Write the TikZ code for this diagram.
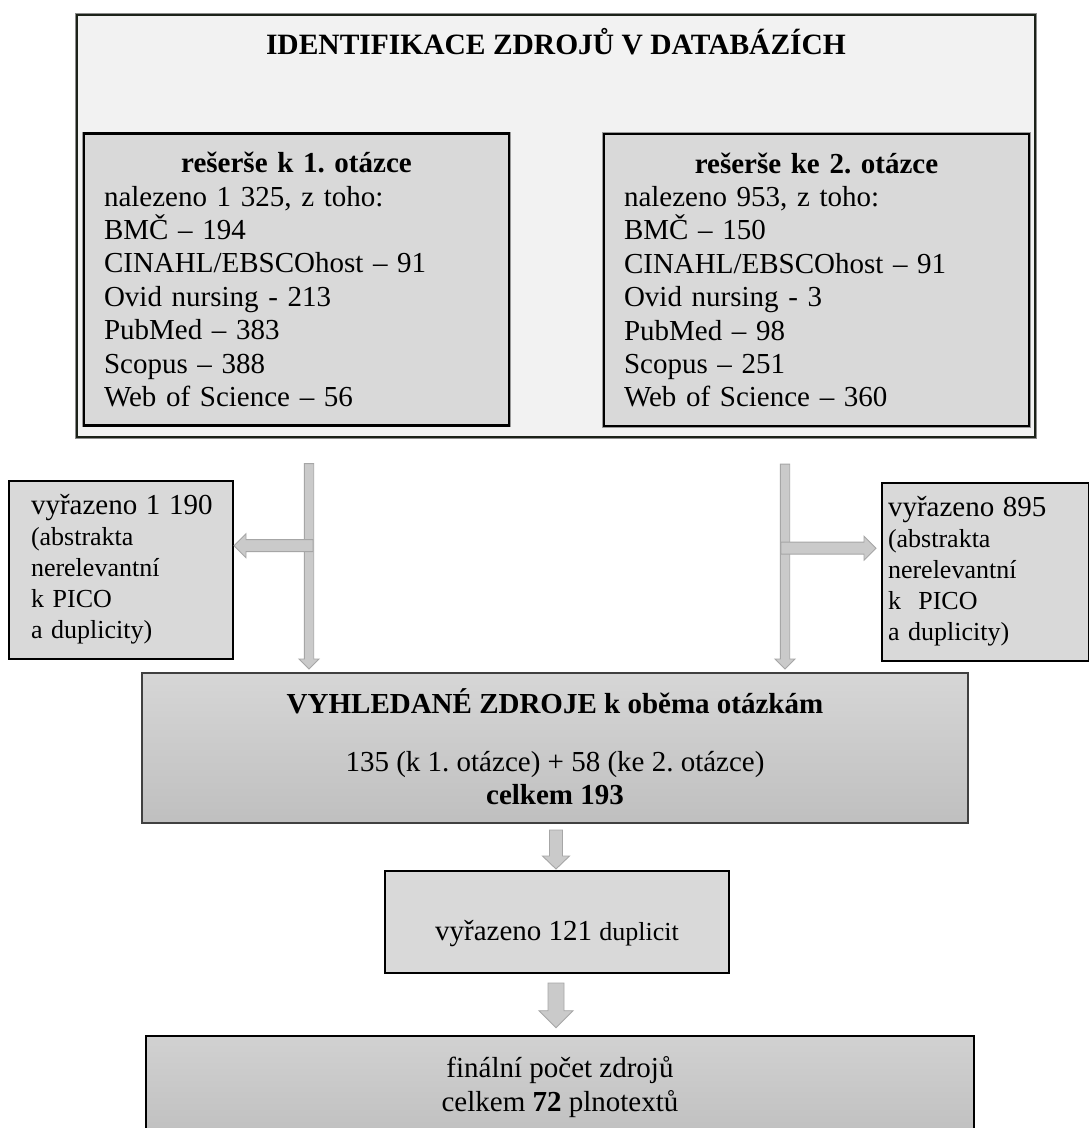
\documentclass[tikz,border=0pt]{standalone}
\usepackage{fontspec}
\setmainfont{Liberation Serif}
\usetikzlibrary{calc}
\frenchspacing
\definecolor{outerfill}{HTML}{F2F2F2}
\definecolor{boxfill}{HTML}{D9D9D9}
\definecolor{outerline}{HTML}{1C2219}
\definecolor{arrowfill}{HTML}{CACACA}
\definecolor{arrowline}{HTML}{A6A6A6}
\newcommand\titlesz{\fontsize{29.5}{33.4}\selectfont}
\newcommand\mainsz{\fontsize{29}{33.4}\selectfont}
\newcommand\firstsz{\fontsize{29}{31}\selectfont}
\newcommand\smallsz{\fontsize{26}{31}\selectfont}
\tikzset{
  outerbox/.style={draw=outerline, line width=2.6pt, fill=outerfill,
    preaction={draw=black!45, line width=4.2pt},
    minimum width=958pt, minimum height=422pt, inner sep=0pt},
  searchbox/.style={draw=black, line width=2.3pt, fill=boxfill,
    preaction={draw=black!40, line width=3.6pt},
    minimum width=425pt, minimum height=292pt, inner sep=0pt,
    text width=385pt, align=left, font=\mainsz},
  discbox/.style={draw=black, line width=2pt, fill=boxfill,
    minimum height=178pt, inner sep=0pt, align=left, font=\smallsz},
  midbox/.style={draw=black!75, line width=2pt, top color=black!16, bottom color=black!25,
    minimum width=826pt, minimum height=150pt, inner sep=0pt, font=\mainsz},
  dupbox/.style={draw=black, line width=2pt, fill=boxfill,
    minimum width=344pt, minimum height=102pt, inner sep=0pt, font=\mainsz},
  finalbox/.style={draw=black, line width=2.6pt, top color=black!18, bottom color=black!25,
    minimum width=828pt, minimum height=104pt, inner sep=0pt, font=\mainsz},
  blockarrow/.style={fill=arrowfill, draw=arrowline, line width=0.9pt, line join=miter}
}
% vertical block arrow: #1 start, #2 tip, #3 half shaft, #4 half head, #5 head length
\newcommand\blockdown[5]{%
  \path[blockarrow] let \p1=#1, \p2=#2 in
    (\x1-#3pt,\y1) -- (\x1+#3pt,\y1) -- (\x1+#3pt,\y2+#5pt) -- (\x1+#4pt,\y2+#5pt)
    -- (\x1,\y2) -- (\x1-#4pt,\y2+#5pt) -- (\x1-#3pt,\y2+#5pt) -- cycle;}
% leftward block arrow
\newcommand\blockleft[5]{%
  \path[blockarrow] let \p1=#1, \p2=#2 in
    (\x1,\y1+#3pt) -- (\x2+#5pt,\y1+#3pt) -- (\x2+#5pt,\y1+#4pt) -- (\x2,\y1)
    -- (\x2+#5pt,\y1-#4pt) -- (\x2+#5pt,\y1-#3pt) -- (\x1,\y1-#3pt) -- cycle;}
% rightward block arrow
\newcommand\blockright[5]{%
  \path[blockarrow] let \p1=#1, \p2=#2 in
    (\x1,\y1+#3pt) -- (\x2-#5pt,\y1+#3pt) -- (\x2-#5pt,\y1+#4pt) -- (\x2,\y1)
    -- (\x2-#5pt,\y1-#4pt) -- (\x2-#5pt,\y1-#3pt) -- (\x1,\y1-#3pt) -- cycle;}

\begin{document}
\begin{tikzpicture}[x=1pt,y=-1pt]
\useasboundingbox (0,0) rectangle (1089,1128);
\clip (0,0) rectangle (1089,1128);
\fill[white] (0,0) rectangle (1089,1128);

% top container
\node[outerbox] (outer) at (556,226) {};
\node[anchor=base, font=\bfseries\titlesz] (title) at (556,54) {IDENTIFIKACE ZDROJŮ V DATABÁZÍCH};

\node[searchbox] (left1) at (296.5,279.5) {%
  \makebox[385pt][c]{\bfseries rešerše k 1. otázce}\\
  nalezeno 1 325, z toho:\\
  BMČ – 194\\
  CINAHL/EBSCOhost – 91\\
  Ovid nursing - 213\\
  PubMed – 383\\
  Scopus – 388\\
  Web of Science – 56};

\node[searchbox] (right1) at (816.5,280) {%
  \makebox[385pt][c]{\bfseries rešerše ke 2. otázce}\\
  nalezeno 953, z toho:\\
  BMČ – 150\\
  CINAHL/EBSCOhost – 91\\
  Ovid nursing - 3\\
  PubMed – 98\\
  Scopus – 251\\
  Web of Science – 360};

% discarded boxes
\node[discbox, minimum width=224pt, text width=180pt] (ldisc) at (121,569.5) {%
  {\firstsz vyřazeno~1~190}\\
  (abstrakta\\
  nerelevantní\\
  k PICO\\
  a duplicity)};
\node[discbox, minimum width=207pt, text width=195pt] (rdisc) at (985.5,571.5) {%
  {\firstsz vyřazeno~895}\\
  (abstrakta\\
  nerelevantní\\
  k~\ PICO\\
  a duplicity)};

% found sources
\node[midbox] (mid) at (555,748) {\raisebox{-3.8pt}[\height][\depth]{%
  \begin{tabular}{@{}c@{}}
  \textbf{VYHLEDANÉ ZDROJE k oběma otázkám}\\[24.6pt]
  135 (k 1. otázce) + 58 (ke 2. otázce)\\
  \textbf{celkem 193}
  \end{tabular}}};

\node[dupbox] (dup) at (557,922) {\raisebox{-12pt}[\height][\depth]{vyřazeno 121 {\smallsz duplicit}}};

\node[finalbox] (final) at (560,1088) {%
  \begin{tabular}{@{}c@{}}
  finální počet zdrojů\\
  celkem \textbf{72} plnotextů
  \end{tabular}};

% connectors
\coordinate (la) at ($(left1.south)+(12.5,37)$);
\coordinate (lt) at ($(la |- mid.north)+(0,-3)$);
\coordinate (lbs) at ($(la)+(4,82)$);
\coordinate (lbt) at (ldisc.east |- lbs);
\blockdown{(la)}{(lt)}{4.7}{10}{10}
\blockleft{(lbs)}{(lbt)}{6}{12}{12}

\coordinate (ra) at ($(right1.south)+(-31.5,37)$);
\coordinate (rt) at ($(ra |- mid.north)+(0,-3)$);
\coordinate (rbs) at ($(ra)+(-4,84)$);
\coordinate (rbt) at ($(rdisc.west |- rbs)+(-5,0)$);
\blockdown{(ra)}{(rt)}{4.7}{10}{10}
\blockright{(rbs)}{(rbt)}{6}{12}{12}

\coordinate (a1s) at ($(mid.south)+(1,6)$);
\coordinate (a1t) at ($(a1s |- dup.north)+(0,-1)$);
\blockdown{(a1s)}{(a1t)}{6.5}{13.5}{13}

\coordinate (a2s) at ($(dup.south)+(-1,9)$);
\coordinate (a2t) at ($(a2s |- final.north)+(0,-7)$);
\blockdown{(a2s)}{(a2t)}{8}{17}{17}
\end{tikzpicture}
\end{document}
